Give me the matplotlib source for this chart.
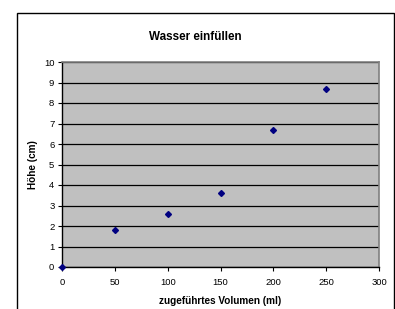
import matplotlib.pyplot as plt
from matplotlib.patches import Rectangle

# Messwerte: zugefuehrtes Volumen (ml) und Hoehe (cm)
volumen = [0, 50, 100, 150, 200, 250]
hoehe = [0, 1.8, 2.6, 3.6, 6.7, 8.7]

x_ticks = [0, 50, 100, 150, 200, 250, 300]
y_ticks = list(range(0, 11))

plt.rcParams['font.family'] = ['Liberation Sans', 'DejaVu Sans']

fig = plt.figure(figsize=(3.95, 3.09), dpi=100)

# outer chart border (bottom edge is cut off in the original)
fig.patches.append(Rectangle((17 / 395, -0.05), 377 / 395, 1.05 - 13 / 309,
                             transform=fig.transFigure, fill=False,
                             edgecolor='black', linewidth=1.0))

ax = fig.add_axes([62 / 395, 1 - 267 / 309, 317 / 395, 205 / 309])
ax.set_facecolor('#c0c0c0')

ax.set_xlim(0, 300)
ax.set_ylim(0, 10)
ax.set_xticks(x_ticks)
ax.set_yticks(y_ticks)

ax.grid(axis='y', color='black', linewidth=0.9)
ax.set_axisbelow(True)

ax.plot(volumen, hoehe, linestyle='none', marker='D', markersize=3.0,
        color='#000080', clip_on=False, zorder=5)

for side in ['top', 'right']:
    ax.spines[side].set_color('#808080')
    ax.spines[side].set_linewidth(1.2)
for side in ['left', 'bottom']:
    ax.spines[side].set_color('black')
    ax.spines[side].set_linewidth(1.0)

ax.tick_params(axis='both', direction='out', length=3, width=0.8,
               labelsize=6.8, pad=2.5)
ax.tick_params(axis='x', pad=5)

ax.set_xlabel('zugeführtes Volumen (ml)', fontsize=7.2, fontweight='bold',
              labelpad=6.5)
ax.set_ylabel('Höhe (cm)', fontsize=7.2, fontweight='bold', labelpad=4)

fig.text(195 / 395, 1 - 37 / 309, 'Wasser einfüllen', ha='center',
         va='center', fontsize=8.4, fontweight='bold')

fig.savefig('out.png', dpi=100)
